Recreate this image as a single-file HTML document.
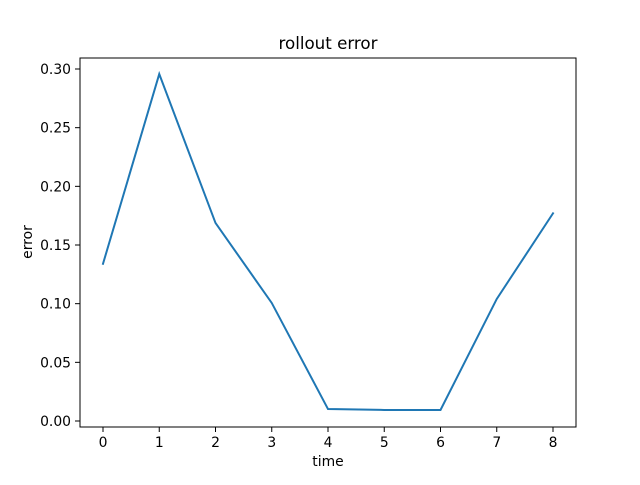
<!DOCTYPE html>
<html><head><meta charset="utf-8"><style>
body{margin:0;background:#fff;}
text{font-family:"DejaVu Sans","Liberation Sans",sans-serif;font-size:13.9px;fill:#000;}
</style></head><body>
<svg id="chart" width="640" height="480" xmlns="http://www.w3.org/2000/svg">
<rect x="0" y="0" width="640" height="480" fill="#fff"/>
<text x="328" y="49" text-anchor="middle" style="font-size:16.7px">rollout error</text>
<g id="xticks"></g>
<g id="yticks"></g>
<path id="line" fill="none" stroke="#1f77b4" stroke-width="2" stroke-linecap="square"/>
<rect x="80" y="58" width="496" height="369" fill="none" stroke="#000" stroke-width="1"/>
<text x="328" y="466" text-anchor="middle">time</text>
<text x="32" y="242" text-anchor="middle" transform="rotate(-90 32 242)">error</text>
</svg>
<script>
const times=[0,1,2,3,4,5,6,7,8];
const errors=[0.134,0.2957,0.1688,0.1006,0.0102,0.0094,0.0094,0.104,0.177];
const xTickLabels=["0","1","2","3","4","5","6","7","8"];
const yTickValues=[0,0.05,0.10,0.15,0.20,0.25,0.30];
const yTickLabels=["0.00","0.05","0.10","0.15","0.20","0.25","0.30"];
const NS="http://www.w3.org/2000/svg";
function xs(v){return 103+v*56.25;}
function ys(v){return 421-v*1173.3;}
const xg=document.getElementById('xticks');
xTickLabels.forEach((l,i)=>{
 const x=xs(times[i]);
 const t=document.createElementNS(NS,'line');
 t.setAttribute('x1',x);t.setAttribute('x2',x);t.setAttribute('y1',427);t.setAttribute('y2',432);
 t.setAttribute('stroke','#000');t.setAttribute('stroke-width','1');
 
 
 xg.appendChild(t);
 const tx=document.createElementNS(NS,'text');
 tx.setAttribute('x',x);tx.setAttribute('y',447);tx.setAttribute('text-anchor','middle');
 tx.textContent=l;
 
 
 xg.appendChild(tx);
});
const yg=document.getElementById('yticks');
yTickValues.forEach((v,i)=>{
 const y=ys(v);
 const t=document.createElementNS(NS,'line');
 t.setAttribute('x1',75);t.setAttribute('x2',80);t.setAttribute('y1',y);t.setAttribute('y2',y);
 t.setAttribute('stroke','#000');t.setAttribute('stroke-width','1');
 
 
 yg.appendChild(t);
 const tx=document.createElementNS(NS,'text');
 tx.setAttribute('x',71);tx.setAttribute('y',y+5);tx.setAttribute('text-anchor','end');
 tx.textContent=yTickLabels[i];
 
 
 yg.appendChild(tx);
});
document.getElementById('line').setAttribute('d',times.map((t,i)=>(i?'L':'M')+xs(t)+' '+ys(errors[i])).join(' '));
</script>
</body></html>
